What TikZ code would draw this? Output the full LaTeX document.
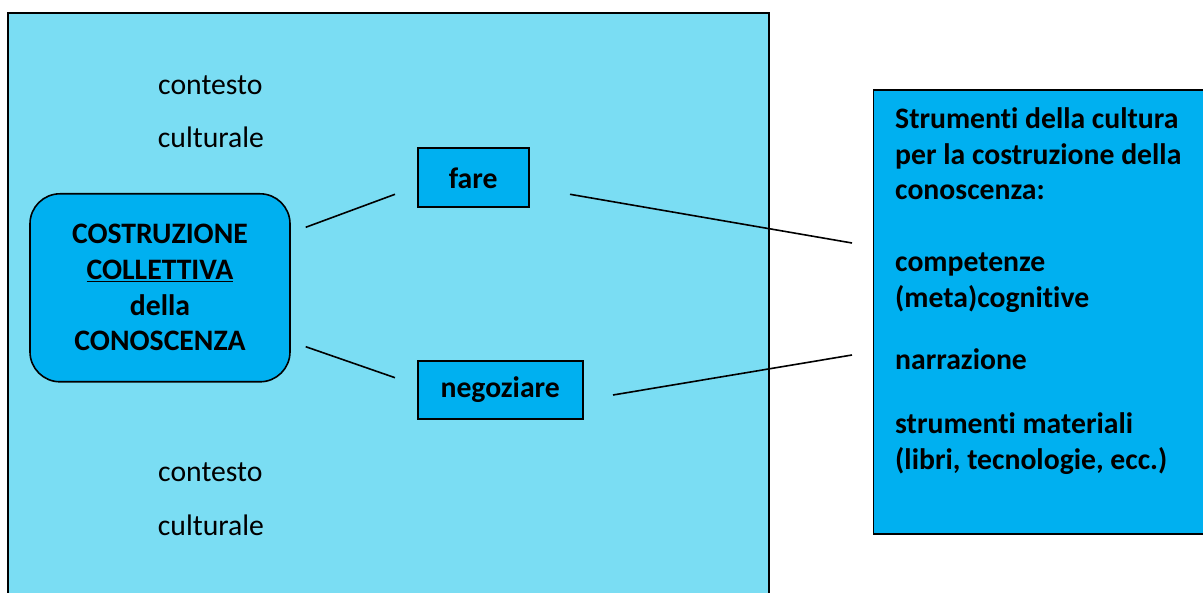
\documentclass[tikz,border=0pt]{standalone}
\usepackage{fontspec}
\setmainfont{Carlito}[Ligatures={NoCommon}]
\definecolor{paleblue}{RGB}{122,221,243}
\definecolor{deepblue}{RGB}{0,176,240}
\begin{document}
\begin{tikzpicture}[x=1pt,y=-1pt,
  frame/.style={draw=black,line width=1.6pt},
  txt/.style={inner sep=0pt,font=\fontsize{29.7}{35.7}\selectfont},
  btxt/.style={txt,font=\fontsize{29.7}{35.7}\selectfont\bfseries},
  verbbox/.style={frame,fill=deepblue,inner sep=0pt},
  link/.style={line width=1.6pt}]
\useasboundingbox (0,0) rectangle (1203,593);
% cultural context area
\draw[frame,fill=paleblue] (8,13.3) rectangle (769,600);
% tools box on the right
\draw[frame,fill=deepblue] (873.5,90) rectangle (1210,534);
% central concept
\node[verbbox,rounded corners=30pt,minimum width=260pt,minimum height=188pt,
  align=center,font=\fontsize{29.7}{35.7}\selectfont\bfseries] (core) at (160,287.8)
  {COSTRUZIONE\\\underline{COLLETTIVA}\\della\\CONOSCENZA};
\node[verbbox,minimum width=111pt,minimum height=59pt,btxt] (fare) at (473.2,177.8) {fare};
\node[verbbox,minimum width=165pt,minimum height=58.3pt,btxt] (neg) at (500.2,390) {negoziare};
% context labels
\node[txt,anchor=base west] (c1) at (158,94.3) {contesto};
\node[txt,anchor=base west] (c2) at (157.7,147.7) {culturale};
\node[txt,anchor=base west] (c3) at (158,481.7) {contesto};
\node[txt,anchor=base west] (c4) at (157.7,535.7) {culturale};
% tools text
\node[btxt,anchor=base west] (t1) at (895,128.5) {Strumenti della cultura};
\node[btxt,anchor=base west] (t2) at (895,164.5) {per la costruzione della};
\node[btxt,anchor=base west] (t3) at (895,200) {conoscenza:};
\node[btxt,anchor=base west] (t4) at (895,272) {competenze};
\node[btxt,anchor=base west] (t5) at (895,307.5) {(meta)cognitive};
\node[btxt,anchor=base west] (t6) at (895,370) {narrazione};
\node[btxt,anchor=base west] (t7) at (895,433.3) {strumenti materiali};
\node[btxt,anchor=base west] (t8) at (895,469.3) {(libri, tecnologie, ecc.)};
% connector end points
\coordinate (coreA) at (305.7,227.3);
\coordinate (fareIn) at (395,194.3);
\coordinate (coreB) at (305.7,346.7);
\coordinate (negIn) at (395,377.7);
\coordinate (fareOut) at (570,194.3);
\coordinate (toolsA) at (852,243);
\coordinate (negOut) at (613,395);
\coordinate (toolsB) at (852,355);
\draw[link] (coreA) -- (fareIn);
\draw[link] (coreB) -- (negIn);
\draw[link] (fareOut) -- (toolsA);
\draw[link] (negOut) -- (toolsB);
\end{tikzpicture}
\end{document}
